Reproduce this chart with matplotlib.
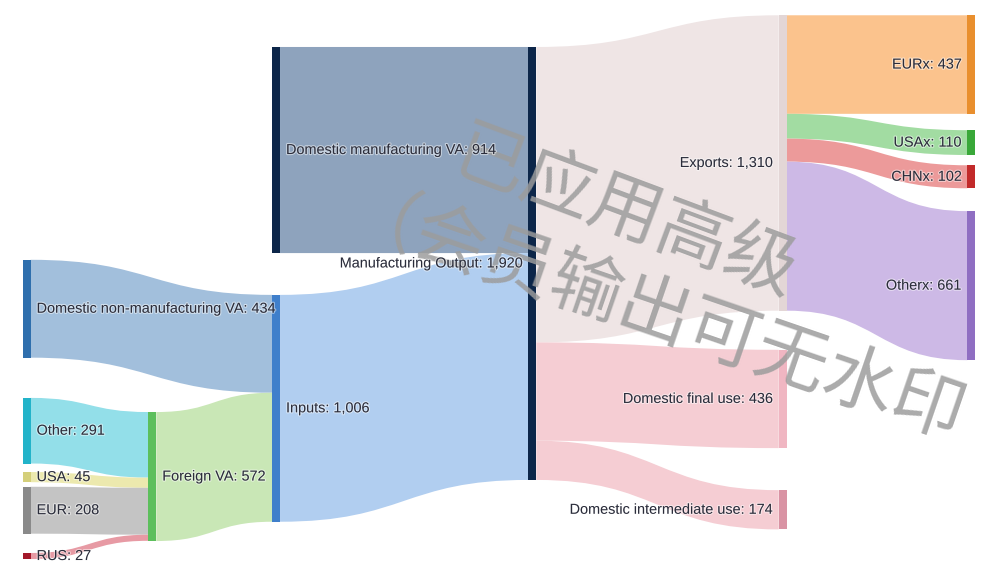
import matplotlib
matplotlib.use("Agg")
import matplotlib.pyplot as plt
import matplotlib.patheffects as pe
from matplotlib.path import Path
from matplotlib.patches import PathPatch, Rectangle

# ---- data ----
node_labels = [
    "Domestic non-manufacturing VA", "Other", "USA", "EUR", "RUS",
    "Foreign VA", "Domestic manufacturing VA", "Inputs",
    "Manufacturing Output", "Exports", "Domestic final use",
    "Domestic intermediate use", "EURx", "USAx", "CHNx", "Otherx",
]
node_colors = [
    "#2f6fad", "#22b3c9", "#d4cf7a", "#8a8a8a", "#a3182a",
    "#5cbf5c", "#0c2649", "#3f7fcb",
    "#0c2649", "#e3d6d6", "#f0b6c2",
    "#d993a4", "#e98f2e", "#39a839", "#c22a2a", "#8f6ec2",
]

link_source = [0, 1, 2, 3, 4, 5, 6, 7, 8, 8, 8, 9, 9, 9, 9]
link_target = [7, 5, 5, 5, 5, 7, 8, 8, 9, 10, 11, 12, 13, 14, 15]
link_value = [434, 291, 45, 208, 27, 572, 914, 1006, 1310, 436, 174, 437, 110, 102, 661]
link_colors = [
    "#a2bfdc", "#93dfe9", "#ece9ae", "#c4c4c4", "#e79aa4", "#c9e7b6",
    "#8ea3bd", "#b1cef0", "#efe5e5", "#f5cdd3", "#f5cdd3",
    "#fbc38d", "#a2dca2", "#ec9a9a", "#cdb9e6",
]

watermark_lines = ["已应用高级", "（会员输出可无水印"]

# ---- layout (fractions of the figure) ----
node_x = [0.023, 0.023, 0.023, 0.023, 0.023, 0.151, 0.277, 0.277,
          0.538, 0.793, 0.793, 0.793, 0.985, 0.985, 0.985, 0.985]
node_top = [0.459, 0.703, 0.834, 0.860, 0.977, 0.728, 0.083, 0.521,
            0.083, 0.027, 0.618, 0.866, 0.027, 0.230, 0.292, 0.373]
node_w = 8 / 982
scale = 0.2255 / 566  # height fraction per unit
pad = 6 / 982

W, H = 982, 566
fig = plt.figure(figsize=(W / 100, H / 100), dpi=100)
ax = fig.add_axes([0, 0, 1, 1])
ax.set_xlim(0, 1)
ax.set_ylim(1, 0)
ax.axis("off")

n = len(node_labels)
in_sum = [0] * n
out_sum = [0] * n
for s, t, v in zip(link_source, link_target, link_value):
    out_sum[s] += v
    in_sum[t] += v
node_value = [max(a, b) for a, b in zip(in_sum, out_sum)]

# stack links on each node side, ordered by the other end's position
out_off = [0.0] * n
in_off = [0.0] * n
order = sorted(range(len(link_value)), key=lambda i: (node_top[link_target[i]], node_top[link_source[i]]))
out_start = {}
for i in order:
    s = link_source[i]
    out_start[i] = node_top[s] + out_off[s]
    out_off[s] += link_value[i] * scale
order = sorted(range(len(link_value)), key=lambda i: (node_top[link_source[i]], node_top[link_target[i]]))
in_start = {}
for i in order:
    t = link_target[i]
    in_start[i] = node_top[t] + in_off[t]
    in_off[t] += link_value[i] * scale

for i in range(len(link_value)):
    s, t = link_source[i], link_target[i]
    h = link_value[i] * scale
    x0 = node_x[s] + node_w
    x1 = node_x[t]
    xm = (x0 + x1) / 2
    y0 = out_start[i]
    y1 = in_start[i]
    verts = [(x0, y0), (xm, y0), (xm, y1), (x1, y1), (x1, y1 + h),
             (xm, y1 + h), (xm, y0 + h), (x0, y0 + h), (x0, y0)]
    codes = [Path.MOVETO, Path.CURVE4, Path.CURVE4, Path.CURVE4, Path.LINETO,
             Path.CURVE4, Path.CURVE4, Path.CURVE4, Path.CLOSEPOLY]
    ax.add_patch(PathPatch(Path(verts, codes), facecolor=link_colors[i],
                           edgecolor="none", zorder=1))

for k in range(n):
    ax.add_patch(Rectangle((node_x[k], node_top[k]), node_w, node_value[k] * scale,
                           facecolor=node_colors[k], edgecolor="none", zorder=2))

# watermark
wm_font = ["Noto Sans CJK SC", "DejaVu Sans"]
ax.text(625 / W, 214 / H, watermark_lines[0], fontsize=52, family=wm_font,
        fontweight="medium", color="#9c9c9c", alpha=0.85, rotation=-20.5,
        rotation_mode="anchor", ha="center", va="center", zorder=3)
ax.text(652 / W, 330 / H, watermark_lines[1], fontsize=52, family=wm_font,
        fontweight="medium", color="#9c9c9c", alpha=0.85, rotation=-19,
        rotation_mode="anchor", ha="center", va="center", zorder=3)

halo = [pe.withStroke(linewidth=1.6, foreground="white", alpha=0.5)]
for k in range(n):
    yc = node_top[k] + node_value[k] * scale / 2
    txt = f"{node_labels[k]}: {node_value[k]:,}"
    if node_x[k] < 0.5:
        ax.text(node_x[k] + node_w + pad, yc, txt, ha="left", va="center",
                fontsize=10.4, family="Liberation Sans", color="#2b2d3b",
                path_effects=halo, zorder=4)
    else:
        ax.text(node_x[k] - pad, yc, txt, ha="right", va="center",
                fontsize=10.4, family="Liberation Sans", color="#2b2d3b",
                path_effects=halo, zorder=4)

fig.savefig("out.png", dpi=100, facecolor="white")
